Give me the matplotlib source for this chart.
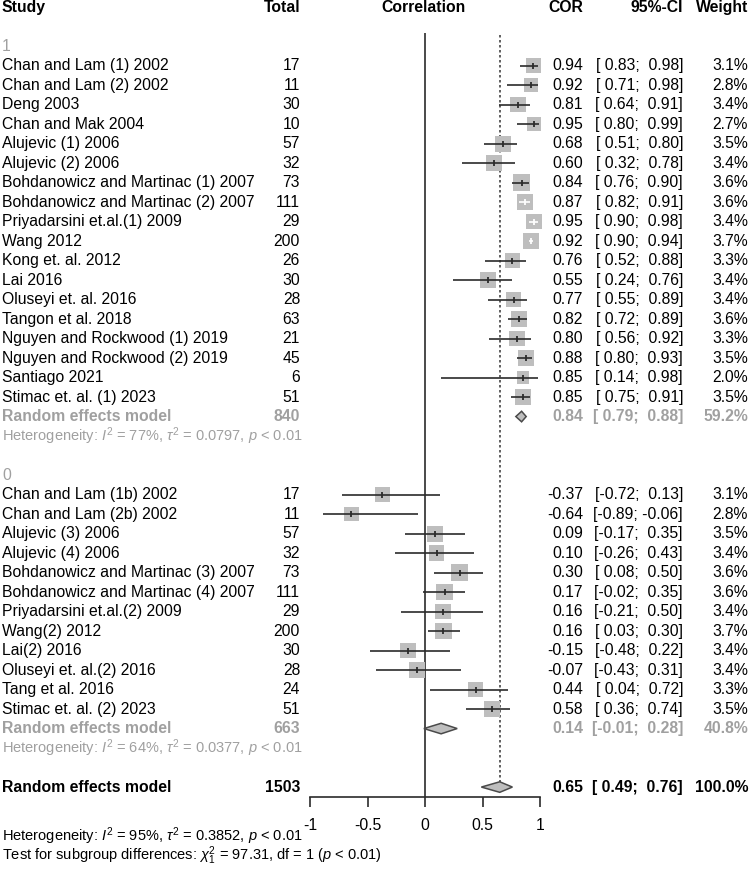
import numpy as np
import matplotlib
matplotlib.use("Agg")
import matplotlib.pyplot as plt
from matplotlib.patches import Polygon
from matplotlib.transforms import blended_transform_factory

plt.rcParams['font.family'] = ['Liberation Sans', 'DejaVu Sans']
plt.rcParams['mathtext.fontset'] = 'custom'
plt.rcParams['mathtext.rm'] = 'Liberation Sans'
plt.rcParams['mathtext.it'] = 'Liberation Sans:italic'
plt.rcParams['mathtext.bf'] = 'Liberation Sans:bold'

# ---- data ----
studies1 = ["Chan and Lam (1) 2002", "Chan and Lam (2) 2002", "Deng 2003",
            "Chan and Mak 2004", "Alujevic (1) 2006", "Alujevic (2) 2006",
            "Bohdanowicz and Martinac (1) 2007", "Bohdanowicz and Martinac (2) 2007",
            "Priyadarsini et.al.(1) 2009", "Wang 2012", "Kong et. al. 2012",
            "Lai 2016", "Oluseyi et. al. 2016", "Tangon et al. 2018",
            "Nguyen and Rockwood (1) 2019", "Nguyen and Rockwood (2) 2019",
            "Santiago 2021", "Stimac et. al. (1) 2023"]
n1 = [17, 11, 30, 10, 57, 32, 73, 111, 29, 200, 26, 30, 28, 63, 21, 45, 6, 51]
cor1 = [0.94, 0.92, 0.81, 0.95, 0.68, 0.60, 0.84, 0.87, 0.95, 0.92, 0.76, 0.55,
        0.77, 0.82, 0.80, 0.88, 0.85, 0.85]
lo1 = [0.83, 0.71, 0.64, 0.80, 0.51, 0.32, 0.76, 0.82, 0.90, 0.90, 0.52, 0.24,
       0.55, 0.72, 0.56, 0.80, 0.14, 0.75]
hi1 = [0.98, 0.98, 0.91, 0.99, 0.80, 0.78, 0.90, 0.91, 0.98, 0.94, 0.88, 0.76,
       0.89, 0.89, 0.92, 0.93, 0.98, 0.91]
w1 = [3.1, 2.8, 3.4, 2.7, 3.5, 3.4, 3.6, 3.6, 3.4, 3.7, 3.3, 3.4, 3.4, 3.6,
      3.3, 3.5, 2.0, 3.5]

studies0 = ["Chan and Lam (1b) 2002", "Chan and Lam (2b) 2002", "Alujevic (3) 2006",
            "Alujevic (4) 2006", "Bohdanowicz and Martinac (3) 2007",
            "Bohdanowicz and Martinac (4) 2007", "Priyadarsini et.al.(2) 2009",
            "Wang(2) 2012", "Lai(2) 2016", "Oluseyi et. al.(2) 2016",
            "Tang et al. 2016", "Stimac et. al. (2) 2023"]
n0 = [17, 11, 57, 32, 73, 111, 29, 200, 30, 28, 24, 51]
cor0 = [-0.37, -0.64, 0.09, 0.10, 0.30, 0.17, 0.16, 0.16, -0.15, -0.07, 0.44, 0.58]
lo0 = [-0.72, -0.89, -0.17, -0.26, 0.08, -0.02, -0.21, 0.03, -0.48, -0.43, 0.04, 0.36]
hi0 = [0.13, -0.06, 0.35, 0.43, 0.50, 0.35, 0.50, 0.30, 0.22, 0.31, 0.72, 0.74]
w0 = [3.1, 2.8, 3.5, 3.4, 3.6, 3.6, 3.4, 3.7, 3.4, 3.4, 3.3, 3.5]

groups = ["1", "0"]
sub_n = [840, 663]
sub_cor = [0.84, 0.14]
sub_lo = [0.79, -0.01]
sub_hi = [0.88, 0.28]
sub_w = [59.2, 40.8]
sub_het = [r"Heterogeneity: $I^2$ = 77%, $\tau^2$ = 0.0797, $p$ < 0.01",
           r"Heterogeneity: $I^2$ = 64%, $\tau^2$ = 0.0377, $p$ < 0.01"]

all_n = 1503
all_cor, all_lo, all_hi = 0.65, 0.49, 0.76
all_het = r"Heterogeneity: $I^2$ = 95%, $\tau^2$ = 0.3852, $p$ < 0.01"
sub_test = r"Test for subgroup differences: $\chi^2_1$ = 97.31, df = 1 ($p$ < 0.01)"

xticks = [-1, -0.5, 0, 0.5, 1]
xticklabels = ["-1", "-0.5", "0", "0.5", "1"]

# ---- layout ----
W, H = 750, 877
FS = 11.3
FS_HET = 10.5
GRAY = "#a0a0a0"
BOX = "#bebebe"
LINE = "#2b2b2b"
PX_PER_UNIT = 115.0

fig = plt.figure(figsize=(W / 100, H / 100), dpi=100)
ax = fig.add_axes([310 / W, (H - 797) / H, 230 / W, 797 / H])
ax.set_xlim(-1, 1)
ax.set_ylim(40.51, -0.36)
ax.patch.set_visible(False)
tr = blended_transform_factory(fig.transFigure, ax.transData)


def txt(xpx, row, s, ha="left", **kw):
    kw.setdefault("fontsize", FS)
    ax.text(xpx / W, row, s, transform=tr, ha=ha, va="center", **kw)


def fmt(v):
    return ("%.2f" % v) if v < 0 else (" %.2f" % v)


def ci_str(lo, hi):
    return "[" + fmt(lo) + "; " + fmt(hi) + "]"


def diamond(c, lo, hi, row, h=0.27):
    ax.add_patch(Polygon([(lo, row), (c, row - h), (hi, row), (c, row + h)],
                         closed=True, facecolor=BOX, edgecolor="#4a4a4a",
                         lw=1.1, zorder=4, clip_on=False))


# header
for xpx, s, ha in [(2, "Study", "left"), (300, "Total", "right"),
                   (424, "Correlation", "center"), (583, "COR", "right"),
                   (683, "95%-CI", "right"), (748, "Weight", "right")]:
    txt(xpx, 0, s, ha=ha, fontweight="bold")

data = [(studies1, n1, cor1, lo1, hi1, w1), (studies0, n0, cor0, lo0, hi0, w0)]
start = 2
for g, (names, ns, cs, los, his, ws) in enumerate(data):
    txt(2, start, groups[g], color=GRAY)
    rows = np.arange(start + 1, start + 1 + len(names))
    side = 16.5 * np.sqrt(np.array(ws) / 3.7)
    ax.scatter(cs, rows, s=(side * 0.72) ** 2, marker="s", color=BOX,
               edgecolors="none", zorder=2, clip_on=False)
    for r, nm, n, c, lo, hi, w, sd in zip(rows, names, ns, cs, los, his, ws, side):
        inside = (c - lo) * PX_PER_UNIT < sd / 2 and (hi - c) * PX_PER_UNIT < sd / 2
        col = "white" if inside else LINE
        ax.hlines(r, lo, hi, color=col, lw=1.2, zorder=3)
        ax.plot([c], [r], marker="|", ms=5, mew=1.3, color=col, zorder=3)
        txt(2, r, nm)
        txt(300, r, str(n), ha="right")
        txt(583, r, "%.2f" % c, ha="right")
        txt(683, r, ci_str(lo, hi), ha="right")
        txt(748, r, "%.1f%%" % w, ha="right")
    rs = rows[-1] + 1
    diamond(sub_cor[g], sub_lo[g], sub_hi[g], rs)
    txt(2, rs, "Random effects model", color=GRAY, fontweight="bold")
    txt(300, rs, str(sub_n[g]), ha="right", color=GRAY, fontweight="bold")
    txt(583, rs, "%.2f" % sub_cor[g], ha="right", color=GRAY, fontweight="bold")
    txt(683, rs, ci_str(sub_lo[g], sub_hi[g]), ha="right", color=GRAY,
        fontweight="bold")
    txt(748, rs, "%.1f%%" % sub_w[g], ha="right", color=GRAY, fontweight="bold")
    txt(2, rs + 1, sub_het[g], color=GRAY, fontsize=FS_HET)
    start = rs + 3

# overall
ro = start
diamond(all_cor, all_lo, all_hi, ro)
txt(2, ro, "Random effects model", fontweight="bold")
txt(300, ro, str(all_n), ha="right", fontweight="bold")
txt(583, ro, "%.2f" % all_cor, ha="right", fontweight="bold")
txt(683, ro, ci_str(all_lo, all_hi), ha="right", fontweight="bold")
txt(748, ro, "100.0%", ha="right", fontweight="bold")

# reference lines
ax.vlines(0, 1.33, 40.51, color=LINE, lw=1.2, zorder=1)
ax.vlines(all_cor, 1.44, ro - 0.27, color="#444444", lw=1.2,
          linestyles=(0, (1.5, 1.5)), zorder=1)

# axis
for sp in ["top", "left", "right"]:
    ax.spines[sp].set_visible(False)
ax.spines["bottom"].set_bounds(-1, 1)
ax.spines["bottom"].set_linewidth(1.2)
ax.spines["bottom"].set_color(LINE)
ax.set_yticks([])
ax.set_xticks(xticks)
ax.set_xticklabels(xticklabels)
ax.tick_params(axis="x", direction="out", length=7, width=1.2, pad=8,
               labelsize=FS, color=LINE)

# footer
txt(2, 42.5, all_het, fontsize=FS_HET)
txt(2, 43.5, sub_test, fontsize=FS_HET)

fig.savefig("out.png", dpi=100)
